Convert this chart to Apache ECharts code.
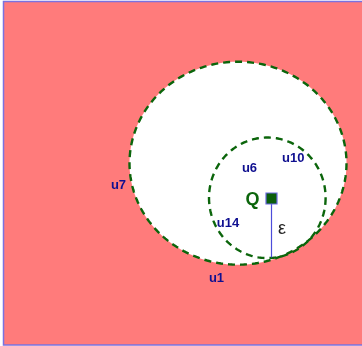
<!DOCTYPE html>
<html><head><meta charset="utf-8">
<script src="https://cdn.jsdelivr.net/npm/echarts@6/dist/echarts.min.js"></script>
<style>html,body{margin:0;padding:0;background:#fff}#c{width:362px;height:346px}</style>
</head><body><div id="c"></div>
<script>
// Region (data units, y downward)
const regionBox = [3.5, 1.5, 364, 345];
// Ellipses: outer neighbourhood and epsilon-ball around Q
const ellipseNames = ['outer', 'eps'];
const ellipseCx = [238, 267.3];
const ellipseCy = [163.2, 197.8];
const ellipseRx = [108.5, 58.3];
const ellipseRy = [101.5, 60.3];
// Query point and epsilon segment end
const qPoint = [271.5, 198.5];
const epsEnd = [271.5, 257.5];
// Labels
const labelNames = ['u7', 'u1', 'u6', 'u10', 'u14'];
const labelX = [118.5, 216.5, 249.5, 293.3, 228];
const labelY = [185.5, 278.5, 168, 158, 223.5];
const qLabel = ['Q', 252.5, 200.5];
const epsLabel = ['ε', 282, 229.5];

const GREEN = '#0b650b';
const chart = echarts.init(document.getElementById('c'));

function ellipseItem(params, api) {
  const i = params.dataIndex;
  const pts = [];
  const N = 240;
  for (let k = 0; k < N; k++) {
    const t = k / N * Math.PI * 2;
    pts.push(api.coord([ellipseCx[i] + ellipseRx[i] * Math.cos(t), ellipseCy[i] + ellipseRy[i] * Math.sin(t)]));
  }
  return {
    type: 'polygon',
    shape: { points: pts },
    style: {
      fill: i === 0 ? '#ffffff' : 'none',
      stroke: GREEN,
      lineWidth: 2.4,
      lineDash: [7, 5]
    }
  };
}

chart.setOption({
  animation: false,
  backgroundColor: '#ffffff',
  grid: { left: 0, right: 0, top: 0, bottom: 0 },
  xAxis: { type: 'value', min: 0, max: 362, show: false },
  yAxis: { type: 'value', min: 0, max: 346, inverse: true, show: false },
  series: [
    {
      type: 'custom',
      data: [regionBox],
      renderItem: function (params, api) {
        const p0 = api.coord([regionBox[0], regionBox[1]]);
        const p1 = api.coord([regionBox[2], regionBox[3]]);
        return {
          type: 'rect',
          shape: { x: p0[0], y: p0[1], width: p1[0] - p0[0], height: p1[1] - p0[1] },
          style: { fill: '#ff7b7b', stroke: '#7a72e0', lineWidth: 1.5 }
        };
      },
      z: 1
    },
    {
      type: 'custom',
      data: ellipseNames.map((n, i) => [ellipseCx[i], ellipseCy[i]]),
      renderItem: ellipseItem,
      z: 2
    },
    {
      type: 'lines',
      coordinateSystem: 'cartesian2d',
      data: [{ coords: [qPoint, epsEnd] }],
      lineStyle: { color: '#3a3ad6', width: 1.2, opacity: 0.9 },
      z: 3
    },
    {
      type: 'scatter',
      data: [qPoint],
      symbol: 'rect',
      symbolSize: 11,
      itemStyle: { color: '#0b5e0b', borderColor: '#6a6ae0', borderWidth: 1.2, opacity: 1 },
      z: 4
    },
    {
      type: 'custom',
      data: labelNames.map((n, i) => [labelX[i], labelY[i]]),
      renderItem: function (params, api) {
        const i = params.dataIndex;
        const p = api.coord([labelX[i], labelY[i]]);
        return {
          type: 'text',
          x: p[0], y: p[1],
          style: { text: labelNames[i], fill: '#101090', font: 'bold 13px "Liberation Sans", Arial, sans-serif', align: 'center', verticalAlign: 'middle' }
        };
      },
      z: 5
    },
    {
      type: 'custom',
      data: [qLabel, epsLabel],
      renderItem: function (params, api) {
        const d = params.dataIndex === 0 ? qLabel : epsLabel;
        const p = api.coord([d[1], d[2]]);
        const isQ = params.dataIndex === 0;
        return {
          type: 'text',
          x: p[0], y: p[1],
          style: {
            text: d[0],
            fill: isQ ? '#0b650b' : '#222222',
            font: isQ ? 'bold 18px "Liberation Sans", Arial, sans-serif' : '18px "Liberation Sans", Arial, sans-serif',
            align: 'center', verticalAlign: 'middle'
          }
        };
      },
      z: 5
    }
  ]
});
</script>
</body></html>
